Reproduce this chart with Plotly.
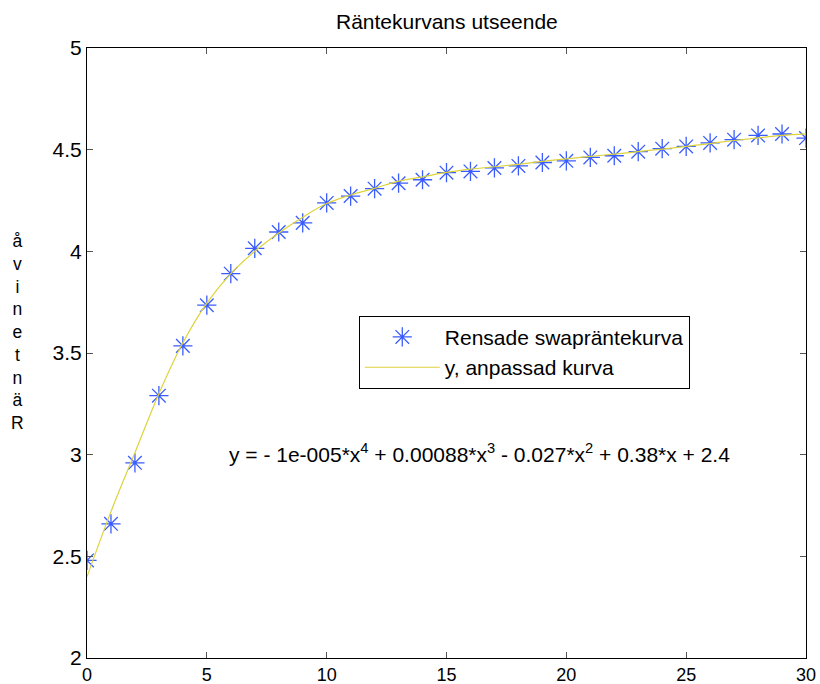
import plotly.graph_objects as go

x_vals = list(range(0, 31))
swap_rates = [2.48, 2.66, 2.96, 3.29, 3.535, 3.735, 3.89, 4.015, 4.095, 4.14,
              4.238, 4.272, 4.308, 4.335, 4.352, 4.387, 4.393, 4.41, 4.42, 4.437,
              4.445, 4.462, 4.47, 4.49, 4.505, 4.516, 4.533, 4.549, 4.57, 4.577, 4.557]
fit_curve = [2.40, 2.72, 3.01, 3.30, 3.55, 3.745, 3.89, 4.00, 4.09, 4.168,
             4.235, 4.277, 4.31, 4.345, 4.366, 4.388, 4.404, 4.416, 4.428, 4.442,
             4.455, 4.467, 4.478, 4.49, 4.503, 4.516, 4.53, 4.545, 4.558, 4.57, 4.578]

title_text = "Räntekurvans utseende"
ylabel_text = "Räntenivå"
eq_text = ("y = - 1e-005*x<sup>4</sup> + 0.00088*x<sup>3</sup> - 0.027*x<sup>2</sup>"
           " + 0.38*x + 2.4")
x_ticks = [0, 5, 10, 15, 20, 25, 30]
y_ticks = [2, 2.5, 3, 3.5, 4, 4.5, 5]
y_ticklabels = ["2", "2.5", "3", "3.5", "4", "4.5", "5"]

FONT = "Liberation Sans, Arial, Helvetica, sans-serif"

fig = go.Figure()
fig.add_trace(go.Scatter(
    x=x_vals, y=swap_rates, mode="markers", name="Rensade swapräntekurva",
    marker=dict(symbol="asterisk-open", size=16, color="#3a5cff",
                line=dict(width=1.3, color="#3a5cff")),
))
fig.add_trace(go.Scatter(
    x=x_vals, y=fit_curve, mode="lines", name="y, anpassad kurva",
    line=dict(color="#dcd33c", width=1.2, shape="spline"),
))

# vertical stacked y-label (letters reversed, as in the original)
stacked = "<br>".join(list(ylabel_text)[::-1])
fig.add_annotation(text=stacked, xref="paper", yref="paper", x=-0.097, y=0.535,
                   xanchor="center", yanchor="middle", showarrow=False,
                   font=dict(size=17.5, color="black", family=FONT), align="center")
fig.add_annotation(text=eq_text, xref="x", yref="y", x=5.85, y=3.01,
                   xanchor="left", yanchor="middle", showarrow=False,
                   font=dict(size=21, color="black", family=FONT))

axis_common = dict(showline=True, linecolor="black", linewidth=1, mirror="ticks",
                   ticks="inside", ticklen=6, tickcolor="#555555",
                   showgrid=False, zeroline=False, automargin=False)

fig.update_layout(
    width=820, height=684,
    margin=dict(l=87, r=14, t=48, b=26, autoexpand=False),
    paper_bgcolor="white", plot_bgcolor="white",
    title=dict(text=title_text, x=0.545, xanchor="center", y=0.969, yanchor="middle",
               font=dict(size=21, color="black", family=FONT)),
    xaxis=dict(range=[0, 30], tickvals=x_ticks, ticklabelstandoff=0,
               tickfont=dict(size=18, color="black", family=FONT), **axis_common),
    yaxis=dict(range=[2, 5], tickvals=y_ticks, ticktext=y_ticklabels,
               tickfont=dict(size=21, color="black", family=FONT), **axis_common),
    legend=dict(x=0.378, y=0.561, xanchor="left", yanchor="top",
                bgcolor="white", bordercolor="black", borderwidth=1,
                font=dict(size=21, color="black", family=FONT),
                itemwidth=75, tracegroupgap=0),
    showlegend=True,
)

fig.write_html("out.html")
